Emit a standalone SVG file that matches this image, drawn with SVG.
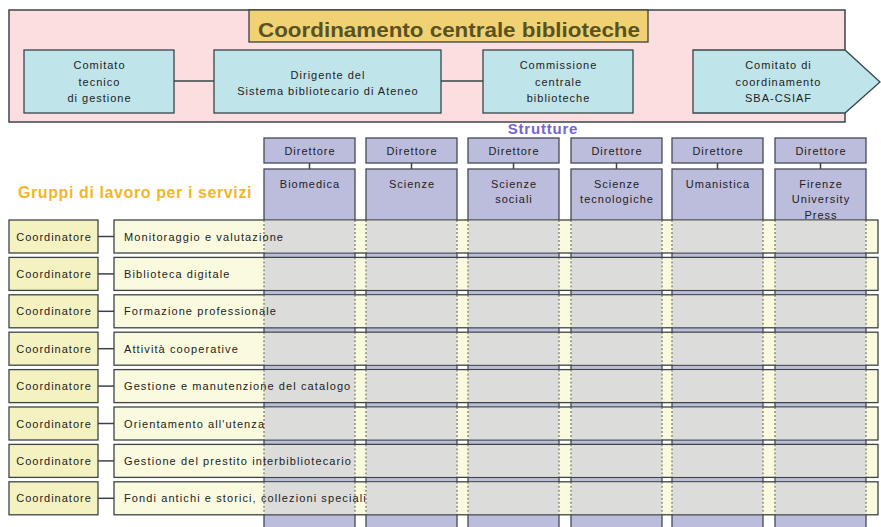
<svg xmlns="http://www.w3.org/2000/svg" width="881" height="527" viewBox="0 0 881 527">
<style>
text{font-family:"Liberation Sans",Arial,sans-serif;fill:#222;}
.t11{font-size:11px;text-anchor:middle;letter-spacing:1px;}
.lab{font-size:11px;letter-spacing:1.1px;}
.bx{fill:#bfe4ea;stroke:#3a4648;stroke-width:1.3;}
.dir{fill:#bcbcdc;stroke:#454a58;stroke-width:1.3;}
.col{fill:#bcbcdc;stroke:#454a58;stroke-width:1.3;}
.coord{fill:#f5f2c2;stroke:#3e4446;stroke-width:1.3;}
.row{fill:#fafadf;stroke:#3e4446;stroke-width:1.3;}
.ov{fill:#dcdcda;}
.dash{stroke:#555;stroke-width:1;stroke-dasharray:2 2;fill:none;}
.ln{stroke:#3a4446;stroke-width:1.5;fill:none;}
</style>
<rect width="881" height="527" fill="#ffffff"/>
<g id="banner">
<rect x="9" y="10" width="836" height="112" fill="#fcdde0" stroke="#3e4648" stroke-width="1.5"/>
</g>
<g id="title">
<rect x="249" y="10" width="399" height="32" fill="#f0d274" stroke="#3e4040" stroke-width="1.3"/>
<text x="449" y="37" text-anchor="middle" font-size="21" font-weight="bold" textLength="382" lengthAdjust="spacingAndGlyphs" style="fill:#5a5222">Coordinamento centrale biblioteche</text>
</g>
<g id="connectors">
<line class="ln" x1="174" y1="81" x2="214" y2="81"/>
<line class="ln" x1="441" y1="81" x2="483" y2="81"/>
</g>
<g id="n-comitato-tecnico">
<rect class="bx" x="24" y="50" width="150" height="63"/>
<text class="t11" x="99.5" y="69">Comitato</text>
<text class="t11" x="99.5" y="86">tecnico</text>
<text class="t11" x="99.5" y="102">di gestione</text>
</g>
<g id="n-dirigente">
<rect class="bx" x="214" y="50" width="227" height="63"/>
<text class="t11" x="328" y="79">Dirigente del</text>
<text class="t11" x="328" y="95">Sistema bibliotecario di Ateneo</text>
</g>
<g id="n-commissione">
<rect class="bx" x="483" y="50" width="150" height="63"/>
<text class="t11" x="558.5" y="69">Commissione</text>
<text class="t11" x="558.5" y="86">centrale</text>
<text class="t11" x="558.5" y="102">biblioteche</text>
</g>
<g id="n-comitato-coord">
<path class="bx" d="M693 50 H845 L880 82 L845 113 H693 Z"/>
<text class="t11" x="778.5" y="69">Comitato di</text>
<text class="t11" x="778.5" y="86">coordinamento</text>
<text class="t11" x="778.5" y="102">SBA-CSIAF</text>
</g>
<g id="strutture-label">
<text x="543" y="134" text-anchor="middle" font-size="15" font-weight="bold" letter-spacing="0.8" style="fill:#7464d4">Strutture</text>
</g>
<g id="gruppi-label">
<text x="18" y="198" font-size="16" font-weight="bold" letter-spacing="0.6" style="fill:#f2b62c">Gruppi di lavoro per i servizi</text>
</g>
<g id="columns">
<g id="c-biomedica">
<rect class="dir" x="264" y="138" width="91" height="25"/><text class="t11" x="310" y="155">Direttore</text>
<line class="ln" x1="309.5" y1="163" x2="309.5" y2="169"/>
<rect class="col" x="264" y="169" width="91" height="370"/>
<text class="t11" x="310" y="188">Biomedica</text>
</g>
<g id="c-scienze">
<rect class="dir" x="366" y="138" width="91" height="25"/><text class="t11" x="412" y="155">Direttore</text>
<line class="ln" x1="411.5" y1="163" x2="411.5" y2="169"/>
<rect class="col" x="366" y="169" width="91" height="370"/>
<text class="t11" x="412" y="188">Scienze</text>
</g>
<g id="c-sociali">
<rect class="dir" x="468" y="138" width="91" height="25"/><text class="t11" x="514" y="155">Direttore</text>
<line class="ln" x1="513.5" y1="163" x2="513.5" y2="169"/>
<rect class="col" x="468" y="169" width="91" height="370"/>
<text class="t11" x="514" y="188">Scienze</text>
<text class="t11" x="514" y="203">sociali</text>
</g>
<g id="c-tecnologiche">
<rect class="dir" x="571" y="138" width="91" height="25"/><text class="t11" x="617" y="155">Direttore</text>
<line class="ln" x1="616.5" y1="163" x2="616.5" y2="169"/>
<rect class="col" x="571" y="169" width="91" height="370"/>
<text class="t11" x="617" y="188">Scienze</text>
<text class="t11" x="617" y="203">tecnologiche</text>
</g>
<g id="c-umanistica">
<rect class="dir" x="672" y="138" width="91" height="25"/><text class="t11" x="718" y="155">Direttore</text>
<line class="ln" x1="717.5" y1="163" x2="717.5" y2="169"/>
<rect class="col" x="672" y="169" width="91" height="370"/>
<text class="t11" x="718" y="188">Umanistica</text>
</g>
<g id="c-fup">
<rect class="dir" x="775" y="138" width="91" height="25"/><text class="t11" x="821" y="155">Direttore</text>
<line class="ln" x1="820.5" y1="163" x2="820.5" y2="169"/>
<rect class="col" x="775" y="169" width="91" height="370"/>
<text class="t11" x="821" y="188">Firenze</text>
<text class="t11" x="821" y="203">University</text>
<text class="t11" x="821" y="219">Press</text>
</g>
</g>
<defs>
<g id="rowbase">
<rect class="coord" x="9" y="0" width="89" height="33"/>
<text class="t11" x="54" y="20.5">Coordinatore</text>
<line class="ln" x1="98" y1="16.5" x2="114" y2="16.5"/>
<rect class="row" x="114" y="0" width="764" height="33"/>
<rect class="ov" x="264.5" y="0.7" width="90" height="31.6"/>
<rect class="ov" x="366.5" y="0.7" width="90" height="31.6"/>
<rect class="ov" x="468.5" y="0.7" width="90" height="31.6"/>
<rect class="ov" x="571.5" y="0.7" width="90" height="31.6"/>
<rect class="ov" x="672.5" y="0.7" width="90" height="31.6"/>
<rect class="ov" x="775.5" y="0.7" width="90" height="31.6"/>
<path class="dash" d="M264 0V33M355 0V33M366 0V33M457 0V33M468 0V33M559 0V33M571 0V33M662 0V33M672 0V33M763 0V33M775 0V33M866 0V33"/>
</g>
</defs>
<g id="rows">
<g id="r1" transform="translate(0,220)"><use href="#rowbase"/><text class="lab" x="124" y="20.5">Monitoraggio e valutazione</text></g>
<g id="r2" transform="translate(0,257.4)"><use href="#rowbase"/><text class="lab" x="124" y="20.5">Biblioteca digitale</text></g>
<g id="r3" transform="translate(0,294.8)"><use href="#rowbase"/><text class="lab" x="124" y="20.5">Formazione professionale</text></g>
<g id="r4" transform="translate(0,332.2)"><use href="#rowbase"/><text class="lab" x="124" y="20.5">Attività cooperative</text></g>
<g id="r5" transform="translate(0,369.6)"><use href="#rowbase"/><text class="lab" x="124" y="20.5">Gestione e manutenzione del catalogo</text></g>
<g id="r6" transform="translate(0,407)"><use href="#rowbase"/><text class="lab" x="124" y="20.5">Orientamento all'utenza</text></g>
<g id="r7" transform="translate(0,444.4)"><use href="#rowbase"/><text class="lab" x="124" y="20.5">Gestione del prestito interbibliotecario</text></g>
<g id="r8" transform="translate(0,481.8)"><use href="#rowbase"/><text class="lab" x="124" y="20.5">Fondi antichi e storici, collezioni speciali</text></g>
</g>
</svg>
